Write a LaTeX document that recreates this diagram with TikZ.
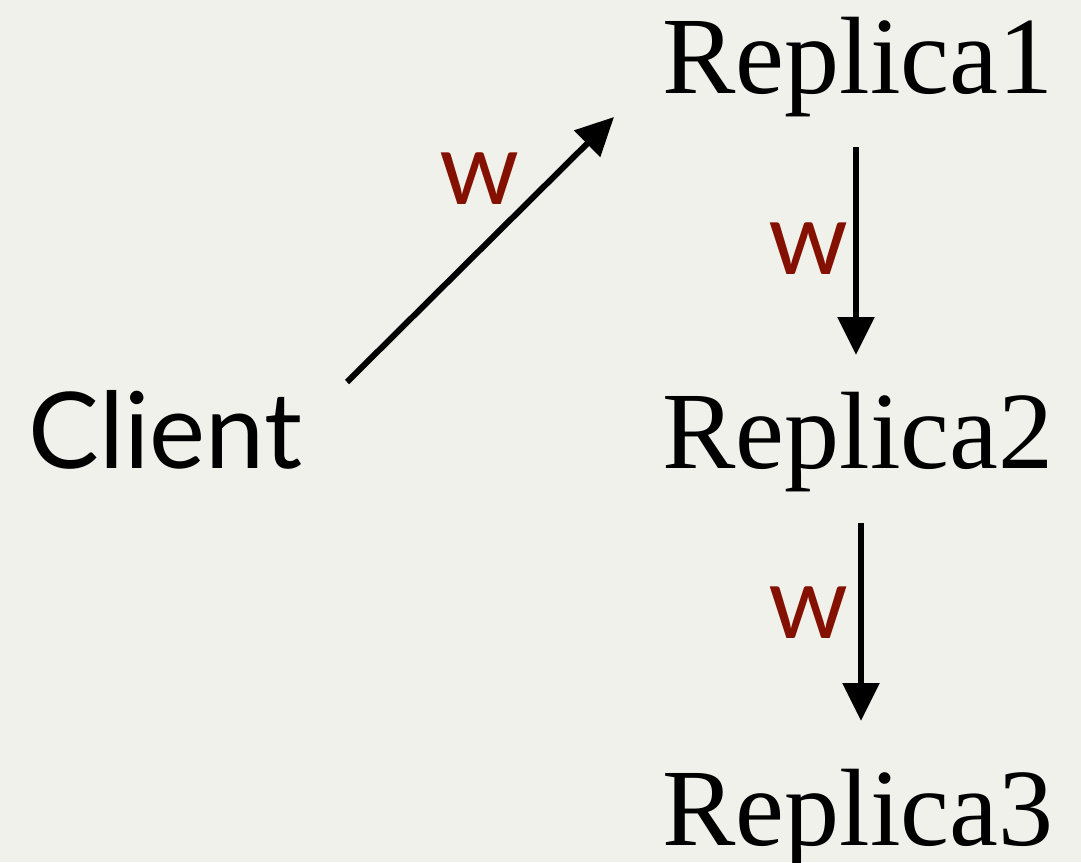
\documentclass[tikz,border=0pt]{standalone}
\usepackage{fontspec}
\setmainfont{Liberation Serif}
\newfontfamily\labelsans{Lato}
\usetikzlibrary{arrows.meta}
\definecolor{bgcol}{HTML}{F1F1EC}
\definecolor{wred}{HTML}{841100}
\tikzset{
  replica/.style={anchor=base west, inner sep=0pt, font=\fontsize{55pt}{60pt}\selectfont},
  clientbox/.style={anchor=base west, inner sep=0pt, font=\labelsans\fontsize{53pt}{58pt}\selectfont},
  wlabel/.style={inner sep=0pt, text=wred, font=\labelsans\fontsize{51pt}{56pt}\selectfont},
  arr/.style={line width=3pt, -{Triangle[length=19pt,width=18pt]}}
}
\begin{document}
\begin{tikzpicture}[x=0.5pt,y=-0.5pt]
\fill[bgcol] (0,0) rectangle (1081,862);
\useasboundingbox (0,0) rectangle (1081,862);
\node[replica] (rep1) at (662,93) {Replica1};
\node[replica] (rep2) at (662,468) {Replica2};
\node[replica] (rep3) at (662,845) {Replica3};
\node[clientbox] (client) at (28,468) {Client};
\coordinate (c1s) at (347,382);
\coordinate (c1e) at (614,117);
\coordinate (r12s) at (856,147);
\coordinate (r12e) at (856,355);
\coordinate (r23s) at (861,523);
\coordinate (r23e) at (861,721);
\draw[arr] (c1s) -- (c1e);
\draw[arr] (r12s) -- (r12e);
\draw[arr] (r23s) -- (r23e);
\node[wlabel, anchor=base] (w1) at (480,204) {w};
\node[wlabel, anchor=base] (w2) at (809,274) {w};
\node[wlabel, anchor=base] (w3) at (809,638) {w};
\end{tikzpicture}
\end{document}
